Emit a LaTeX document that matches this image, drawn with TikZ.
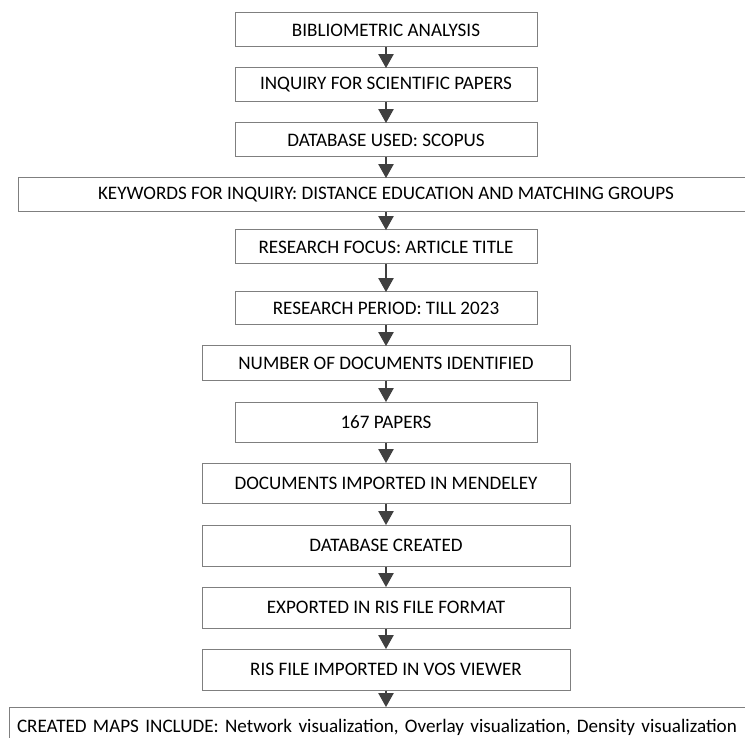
\documentclass[tikz,border=0pt]{standalone}
\usepackage{fontspec}
\setmainfont{Carlito}
\usetikzlibrary{arrows.meta}
\definecolor{boxline}{HTML}{7F7F7F}
\definecolor{arrcol}{HTML}{404040}
\tikzset{
  stepbox/.style={draw=boxline, line width=1pt, inner sep=0pt, font=\fontsize{19.1}{22}\selectfont, text=black},
  arr/.style={draw=arrcol, line width=2.2pt, -{Triangle[width=15pt,length=14pt]}, shorten >=-0.6pt}
}
\newcommand{\bx}[6]{% name, l, t, r, b, text
  \node[stepbox, minimum width=#4-#2, minimum height=#5-#3] (#1) at ({(#2+#4)/2},{(#3+#5)/2}) {#6};}
\begin{document}
\begin{tikzpicture}[x=1pt,y=-1pt]
\clip (0,0) rectangle (745,738);
\fill[white] (0,0) rectangle (745,738);
\bx{b1}{235}{13}{537}{47}{BIBLIOMETRIC ANALYSIS}
\bx{b2}{235}{68}{537}{102}{INQUIRY FOR SCIENTIFIC PAPERS}
\bx{b3}{235}{123}{537}{157}{DATABASE USED: SCOPUS}
\bx{b4}{18}{178}{754}{212}{KEYWORDS FOR INQUIRY: DISTANCE EDUCATION AND MATCHING GROUPS}
\bx{b5}{235}{230}{537}{264}{RESEARCH FOCUS: ARTICLE TITLE}
\bx{b6}{235}{292}{537}{325}{RESEARCH PERIOD: TILL 2023}
\bx{b7}{202}{346}{570}{380}{NUMBER OF DOCUMENTS IDENTIFIED}
\bx{b8}{235}{402}{537}{442}{167 PAPERS}
\bx{b9}{202}{463}{570}{503}{DOCUMENTS IMPORTED IN MENDELEY}
\bx{b10}{202}{525}{570}{566}{DATABASE CREATED}
\bx{b11}{202}{587}{570}{628}{EXPORTED IN RIS FILE FORMAT}
\bx{b12}{202}{649}{570}{690}{RIS FILE IMPORTED IN VOS VIEWER}
\node[stepbox, minimum width=754, minimum height=40, text width=754-16, inner xsep=8pt, align=left] (b13) at (386,727) {CREATED MAPS INCLUDE: Network visualization, Overlay visualization, Density visualization};
\foreach \a/\b in {b1/b2,b2/b3,b3/b4,b4/b5,b5/b6,b6/b7,b7/b8,b8/b9,b9/b10,b10/b11,b11/b12,b12/b13}
  \draw[arr] (\a.south) -- (\b.north);
\end{tikzpicture}
\end{document}
